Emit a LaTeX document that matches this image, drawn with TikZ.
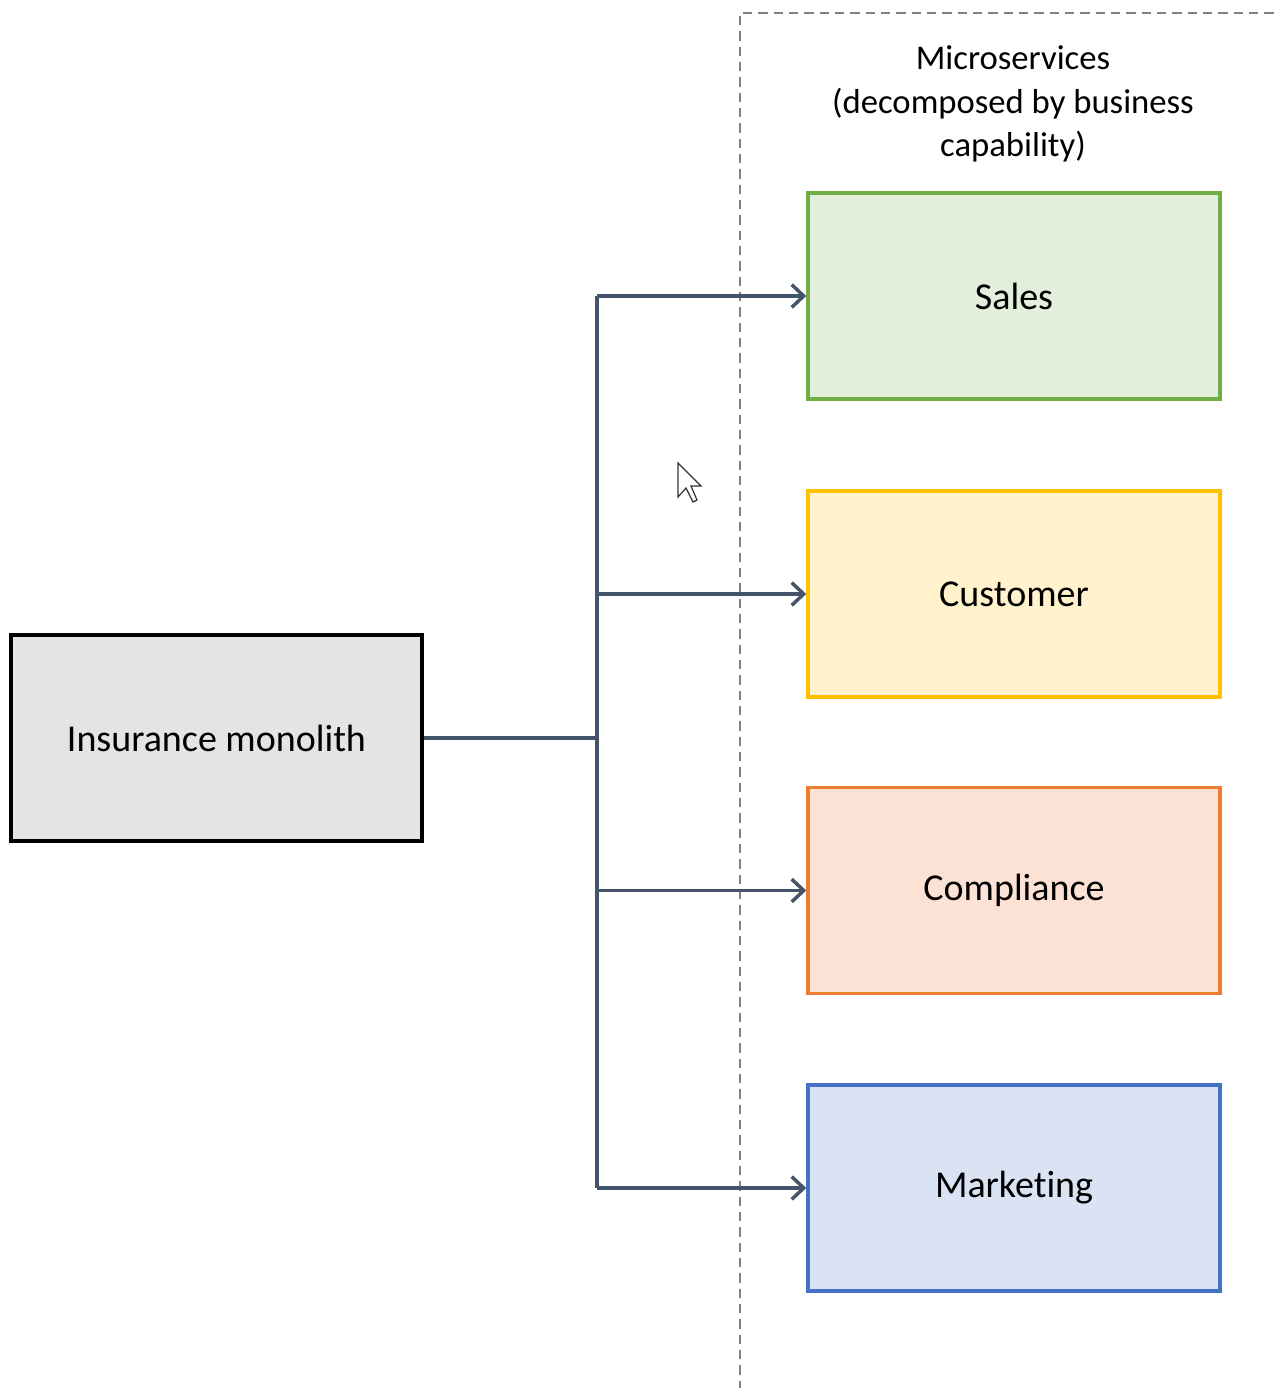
\documentclass[tikz,border=0pt]{standalone}
\usepackage{fontspec}
\setmainfont[RawFeature=-liga]{Carlito}
\usetikzlibrary{arrows.meta}
\definecolor{conn}{HTML}{44546A}
\definecolor{dashc}{HTML}{808080}
\definecolor{monofill}{HTML}{E4E4E4}
\definecolor{salesD}{HTML}{70AD47}\definecolor{salesF}{HTML}{E2EFDA}
\definecolor{custD}{HTML}{FFC000}\definecolor{custF}{HTML}{FFF2CC}
\definecolor{compD}{HTML}{ED7D31}\definecolor{compF}{HTML}{FBE2D5}
\definecolor{mktD}{HTML}{4472C4}\definecolor{mktF}{HTML}{DAE3F3}
\begin{document}
\begin{tikzpicture}[x=0.75pt,y=-0.75pt,
  svcbox/.style={draw=#1D,fill=#1F,line width=2.6pt,minimum width=309pt,minimum height=154.5pt,inner sep=0pt,font=\fontsize{28.5}{34}\selectfont},
  conline/.style={draw=conn,line width=2.6pt},
  conarrow/.style={conline,-{Straight Barb[length=9pt,width=17pt]}},
  boundary/.style={draw=dashc,line width=2pt,dash pattern=on 7pt off 4.5pt}]
\useasboundingbox (0,0) rectangle (1280,1388);
% boundary
\draw[boundary] (740,1390) -- (740,13) -- (1282,13);
% title
\node[align=center,font=\fontsize{26}{32.5}\selectfont] (title) at (1013,104) {Microservices\\(decomposed by business\\capability)};
% monolith
\node[draw=black,fill=monofill,line width=3pt,minimum width=308.25pt,minimum height=154.5pt,inner sep=0pt,font=\fontsize{28.5}{34}\selectfont] (mono) at (216.5,738) {Insurance monolith};
% services
\node[svcbox=sales] (sales) at (1014,296) {Sales};
\node[svcbox=cust] (cust) at (1014,594) {Customer};
\node[svcbox=comp] (comp) at (1014,890.5) {Compliance};
\node[svcbox=mkt] (mkt) at (1014,1188) {Marketing};
% connectors
\coordinate (trunk) at (597,737);
\draw[conline] (mono.east) -- (mono.east -| trunk);
\draw[conline] (trunk |- sales.west) -- (trunk |- mkt.west);
\draw[conarrow] (trunk |- sales.west) -- (sales.west);
\draw[conarrow] (trunk |- cust.west) -- (cust.west);
\draw[conarrow] (trunk |- comp.west) -- (comp.west);
\draw[conarrow] (trunk |- mkt.west) -- (mkt.west);
% mouse cursor
\draw[fill=white,draw=black!80,line width=0.9pt,line join=miter]
  (678,463) -- (678,497) -- (686,488) -- (693,502) -- (697,500) -- (691,486) -- (701,486) -- cycle;
\end{tikzpicture}
\end{document}
